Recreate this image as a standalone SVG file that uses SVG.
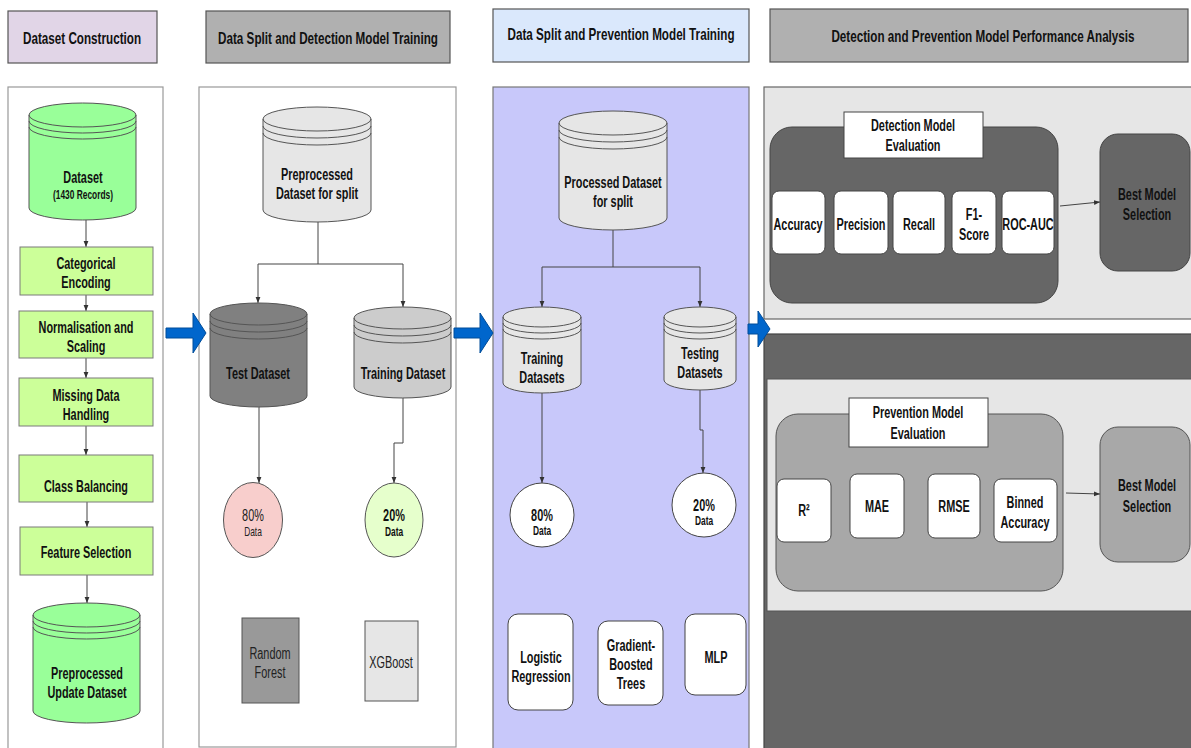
<svg xmlns="http://www.w3.org/2000/svg" width="1191" height="748" viewBox="0 0 1191 748">
<defs>
<marker id="ah" viewBox="0 0 10 10" refX="10" refY="5" markerWidth="6" markerHeight="6" orient="auto" markerUnits="userSpaceOnUse"><path d="M0,1 L10,5 L0,9 Z" fill="#333"/></marker>
<style>
text{font-family:"Liberation Sans",Arial,sans-serif;text-anchor:middle;fill:#111}
.h{font-weight:bold;font-size:16px}
.b{font-weight:bold;font-size:16px}
.s{font-weight:bold;font-size:12px}
.n{font-size:16px;fill:#222}
.ns{font-size:12px;fill:#222}
.hd{stroke:#555;stroke-width:1.2}
.pn{fill:#fff;stroke:#999;stroke-width:1.2}
.gb{fill:#ccff99;stroke:#7a7a7a;stroke-width:1}
.cyl{stroke:#555;stroke-width:1}
.ln{fill:none;stroke:#555;stroke-width:1}
.con{fill:none;stroke:#444;stroke-width:1;marker-end:url(#ah)}
.wb{fill:#fff;stroke:#444;stroke-width:1}
.blue{fill:#0066cc;stroke:#004c99;stroke-width:1}
</style>
</defs>

<!-- headers -->
<g id="h1"><rect class="hd" x="8" y="11" width="149" height="52" fill="#e1d5e7"/><text class="h" transform="matrix(.73 0 0 1 82 44)">Dataset Construction</text></g>
<g id="h2"><rect class="hd" x="206" y="11" width="244" height="52" fill="#b0b0b0"/><text class="h" transform="matrix(.73 0 0 1 328 44)">Data Split and Detection Model Training</text></g>
<g id="h3"><rect class="hd" x="493" y="9" width="256" height="53" fill="#dae8fc"/><text class="h" transform="matrix(.73 0 0 1 621 40)">Data Split and Prevention Model Training</text></g>
<g id="h4"><rect class="hd" x="770" y="9" width="418" height="53" fill="#b0b0b0"/><text class="h" transform="matrix(.73 0 0 1 983 42)">Detection and Prevention Model Performance Analysis</text></g>

<!-- panels -->
<g id="p1"><rect class="pn" x="8" y="87" width="155" height="670"/></g>
<g id="p2"><rect class="pn" x="199" y="87" width="257" height="660"/></g>
<g id="p3"><rect x="493" y="87" width="256" height="670" fill="#c8c8fa" stroke="#777" stroke-width="1.2"/></g>
<g id="p4">
<rect x="764" y="87" width="430" height="232" fill="#e6e6e6" stroke="#666" stroke-width="1.2"/>
<rect x="764" y="334" width="430" height="420" fill="#666666" stroke="#444" stroke-width="1.2"/>
<rect x="767" y="379" width="427" height="232" fill="#e6e6e6" stroke="#555" stroke-width="1"/>
</g>

<!-- block arrows -->
<g id="arrows-blue">
<path class="blue" d="M166,328 H193 V313 L206,333 L193,353 V338 H166 Z"/>
<path class="blue" d="M454,328 H480 V313 L493,333 L480,353 V338 H454 Z"/>
<path class="blue" d="M748,324 H758 V311 L770,329 L758,347 V334 H748 Z"/>
</g>

<!-- connectors -->
<g id="connectors">
<path class="con" d="M86,220 V247"/>
<path class="con" d="M86,295 V311"/>
<path class="con" d="M86,358 V378"/>
<path class="con" d="M86,426 V455"/>
<path class="con" d="M87,502 V527"/>
<path class="con" d="M87,575 V603"/>
<path class="con" d="M318,222 V264 H258 V303"/>
<path class="con" d="M318,264 H403 V307"/>
<path class="con" d="M259,407 V483"/>
<path class="con" d="M403,398 V443 H394 V483"/>
<path class="con" d="M613,230 V267 H542 V307"/>
<path class="con" d="M613,267 H700 V307"/>
<path class="con" d="M542,393 V483"/>
<path class="con" d="M700,390 V430 H703 V473"/>
<path class="con" d="M1060,206 L1100,202"/>
<path class="con" d="M1066,493 L1100,494"/>
</g>

<!-- panel 1 nodes -->
<g id="dataset">
<path class="cyl" fill="#99ff99" d="M29,115 v93 a53.5,12 0 0 0 107,0 v-93 a53.5,12 0 0 0 -107,0 z"/>
<path class="ln" d="M29,115 a53.5,12 0 0 0 107,0 M29,121 a53.5,12 0 0 0 107,0 M29,127 a53.5,12 0 0 0 107,0"/>
<text class="b" transform="matrix(.68 0 0 1 83 183)">Dataset</text>
<text class="s" transform="matrix(.7 0 0 1 83 199)">(1430 Records)</text>
</g>
<g id="cat"><rect class="gb" x="20" y="247" width="133" height="48"/><text class="b" transform="matrix(.68 0 0 1 86 269)">Categorical</text><text class="b" transform="matrix(.68 0 0 1 86 288)">Encoding</text></g>
<g id="norm"><rect class="gb" x="19" y="311" width="134" height="47"/><text class="b" transform="matrix(.68 0 0 1 86 333)">Normalisation and</text><text class="b" transform="matrix(.68 0 0 1 86 352)">Scaling</text></g>
<g id="miss"><rect class="gb" x="19" y="378" width="134" height="48"/><text class="b" transform="matrix(.68 0 0 1 86 401)">Missing Data</text><text class="b" transform="matrix(.68 0 0 1 86 420)">Handling</text></g>
<g id="bal"><rect class="gb" x="19" y="455" width="134" height="47"/><text class="b" transform="matrix(.68 0 0 1 86 492)">Class Balancing</text></g>
<g id="feat"><rect class="gb" x="20" y="527" width="133" height="48"/><text class="b" transform="matrix(.68 0 0 1 86 558)">Feature Selection</text></g>
<g id="prepupd">
<path class="cyl" fill="#99ff99" d="M33,615 v96 a53.5,12 0 0 0 107,0 v-96 a53.5,12 0 0 0 -107,0 z"/>
<path class="ln" d="M33,615 a53.5,12 0 0 0 107,0 M33,621 a53.5,12 0 0 0 107,0 M33,627 a53.5,12 0 0 0 107,0"/>
<text class="b" transform="matrix(.68 0 0 1 87 679)">Preprocessed</text>
<text class="b" transform="matrix(.68 0 0 1 87 698)">Update Dataset</text>
</g>

<!-- panel 2 nodes -->
<g id="prepsplit">
<path class="cyl" fill="#e6e6e6" d="M263,119 v91 a54,12 0 0 0 108,0 v-91 a54,12 0 0 0 -108,0 z"/>
<path class="ln" d="M263,119 a54,12 0 0 0 108,0 M263,126 a54,12 0 0 0 108,0 M263,133 a54,12 0 0 0 108,0"/>
<text class="b" transform="matrix(.68 0 0 1 317 180)">Preprocessed</text>
<text class="b" transform="matrix(.68 0 0 1 317 199)">Dataset for split</text>
</g>
<g id="testds">
<path class="cyl" fill="#808080" d="M210,314 v82 a48.5,11 0 0 0 97,0 v-82 a48.5,11 0 0 0 -97,0 z"/>
<path class="ln" d="M210,314 a48.5,11 0 0 0 97,0 M210,321 a48.5,11 0 0 0 97,0 M210,328 a48.5,11 0 0 0 97,0"/>
<text class="b" transform="matrix(.68 0 0 1 258 379)">Test Dataset</text>
</g>
<g id="trainds">
<path class="cyl" fill="#cccccc" d="M354,318 v69 a48.5,11 0 0 0 97,0 v-69 a48.5,11 0 0 0 -97,0 z"/>
<path class="ln" d="M354,318 a48.5,11 0 0 0 97,0 M354,325 a48.5,11 0 0 0 97,0 M354,332 a48.5,11 0 0 0 97,0"/>
<text class="b" transform="matrix(.68 0 0 1 403 379)">Training Dataset</text>
</g>
<g id="d80"><ellipse cx="253" cy="520" rx="29.5" ry="37.5" fill="#f8cecc" stroke="#555" stroke-width="1"/><text class="n" transform="matrix(.68 0 0 1 253 521)">80%</text><text class="ns" transform="matrix(.7 0 0 1 253 536)">Data</text></g>
<g id="d20"><ellipse cx="394" cy="520" rx="29" ry="37" fill="#e6ffcc" stroke="#555" stroke-width="1"/><text class="b" transform="matrix(.68 0 0 1 394 521)">20%</text><text class="s" transform="matrix(.7 0 0 1 394 536)">Data</text></g>
<g id="rf"><rect x="242" y="618" width="57" height="85" fill="#999999" stroke="#555" stroke-width="1"/><text class="n" transform="matrix(.68 0 0 1 270 659)">Random</text><text class="n" transform="matrix(.68 0 0 1 270 678)">Forest</text></g>
<g id="xgb"><rect x="365" y="621" width="53" height="80" fill="#e6e6e6" stroke="#555" stroke-width="1"/><text class="n" transform="matrix(.68 0 0 1 391 668)">XGBoost</text></g>

<!-- panel 3 nodes -->
<g id="procsplit">
<path class="cyl" fill="#e6e6e6" d="M559,123 v95 a54,12 0 0 0 108,0 v-95 a54,12 0 0 0 -108,0 z"/>
<path class="ln" d="M559,123 a54,12 0 0 0 108,0 M559,130 a54,12 0 0 0 108,0 M559,137 a54,12 0 0 0 108,0"/>
<text class="b" transform="matrix(.68 0 0 1 613 188)">Processed Dataset</text>
<text class="b" transform="matrix(.68 0 0 1 613 207)">for split</text>
</g>
<g id="trainsets">
<path class="cyl" fill="#e6e6e6" d="M503,317 v66 a39,10 0 0 0 78,0 v-66 a39,10 0 0 0 -78,0 z"/>
<path class="ln" d="M503,317 a39,10 0 0 0 78,0 M503,323 a39,10 0 0 0 78,0 M503,329 a39,10 0 0 0 78,0"/>
<text class="b" transform="matrix(.68 0 0 1 542 364)">Training</text>
<text class="b" transform="matrix(.68 0 0 1 542 383)">Datasets</text>
</g>
<g id="testsets">
<path class="cyl" fill="#e6e6e6" d="M664,317 v63 a36,10 0 0 0 72,0 v-63 a36,10 0 0 0 -72,0 z"/>
<path class="ln" d="M664,317 a36,10 0 0 0 72,0 M664,323 a36,10 0 0 0 72,0 M664,329 a36,10 0 0 0 72,0"/>
<text class="b" transform="matrix(.68 0 0 1 700 359)">Testing</text>
<text class="b" transform="matrix(.68 0 0 1 700 378)">Datasets</text>
</g>
<g id="c80"><circle cx="542" cy="515" r="32" fill="#fff" stroke="#444" stroke-width="1"/><text class="b" transform="matrix(.68 0 0 1 542 521)">80%</text><text class="s" transform="matrix(.7 0 0 1 542 535)">Data</text></g>
<g id="c20"><circle cx="704" cy="505" r="32" fill="#fff" stroke="#444" stroke-width="1"/><text class="b" transform="matrix(.68 0 0 1 704 511)">20%</text><text class="s" transform="matrix(.7 0 0 1 704 525)">Data</text></g>
<g id="lr"><rect class="wb" x="508" y="614" width="65" height="96" rx="10"/><text class="b" transform="matrix(.68 0 0 1 541 663)">Logistic</text><text class="b" transform="matrix(.68 0 0 1 541 682)">Regression</text></g>
<g id="gbt"><rect class="wb" x="598" y="621" width="65" height="84" rx="10"/><text class="b" transform="matrix(.68 0 0 1 631 651)">Gradient-</text><text class="b" transform="matrix(.68 0 0 1 631 670)">Boosted</text><text class="b" transform="matrix(.68 0 0 1 631 689)">Trees</text></g>
<g id="mlp"><rect class="wb" x="685" y="614" width="61" height="81" rx="10"/><text class="b" transform="matrix(.68 0 0 1 716 663)">MLP</text></g>

<!-- panel 4: detection -->
<g id="deteval">
<rect x="770" y="127" width="288" height="176" rx="22" fill="#666666" stroke="#444" stroke-width="1"/>
<rect x="844" y="112" width="139" height="46" fill="#fff" stroke="#444" stroke-width="1"/>
<text class="b" transform="matrix(.68 0 0 1 913 131)">Detection Model</text>
<text class="b" transform="matrix(.68 0 0 1 913 151)">Evaluation</text>
</g>
<g id="acc"><rect class="wb" x="772" y="191" width="53" height="63" rx="7"/><text class="b" transform="matrix(.68 0 0 1 798 230)">Accuracy</text></g>
<g id="prec"><rect class="wb" x="834" y="191" width="54" height="63" rx="7"/><text class="b" transform="matrix(.68 0 0 1 861 230)">Precision</text></g>
<g id="rec"><rect class="wb" x="893" y="191" width="52" height="63" rx="7"/><text class="b" transform="matrix(.68 0 0 1 919 230)">Recall</text></g>
<g id="f1"><rect class="wb" x="952" y="191" width="44" height="63" rx="7"/><text class="b" transform="matrix(.68 0 0 1 974 220)">F1-</text><text class="b" transform="matrix(.68 0 0 1 974 240)">Score</text></g>
<g id="roc"><rect class="wb" x="1002" y="191" width="52" height="63" rx="7"/><text class="b" transform="matrix(.68 0 0 1 1028 230)">ROC-AUC</text></g>
<g id="best1"><rect x="1100" y="134" width="90" height="137" rx="18" fill="#666666" stroke="#444" stroke-width="1"/><text class="b" transform="matrix(.68 0 0 1 1147 200)">Best Model</text><text class="b" transform="matrix(.68 0 0 1 1147 220)">Selection</text></g>

<!-- panel 4: prevention -->
<g id="preveval">
<rect x="776" y="414" width="287" height="177" rx="22" fill="#a8a8a8" stroke="#555" stroke-width="1"/>
<rect x="849" y="398" width="139" height="49" fill="#fff" stroke="#444" stroke-width="1"/>
<text class="b" transform="matrix(.68 0 0 1 918 418)">Prevention Model</text>
<text class="b" transform="matrix(.68 0 0 1 918 439)">Evaluation</text>
</g>
<g id="r2"><rect class="wb" x="777" y="479" width="54" height="63" rx="7"/><text class="b" transform="matrix(.68 0 0 1 804 516)">R²</text></g>
<g id="mae"><rect class="wb" x="850" y="474" width="54" height="64" rx="7"/><text class="b" transform="matrix(.68 0 0 1 877 512)">MAE</text></g>
<g id="rmse"><rect class="wb" x="928" y="474" width="52" height="64" rx="7"/><text class="b" transform="matrix(.68 0 0 1 954 512)">RMSE</text></g>
<g id="binned"><rect class="wb" x="994" y="479" width="63" height="63" rx="7"/><text class="b" transform="matrix(.68 0 0 1 1025 508)">Binned</text><text class="b" transform="matrix(.68 0 0 1 1025 528)">Accuracy</text></g>
<g id="best2"><rect x="1100" y="427" width="90" height="135" rx="18" fill="#a8a8a8" stroke="#555" stroke-width="1"/><text class="b" transform="matrix(.68 0 0 1 1147 491)">Best Model</text><text class="b" transform="matrix(.68 0 0 1 1147 512)">Selection</text></g>
</svg>
